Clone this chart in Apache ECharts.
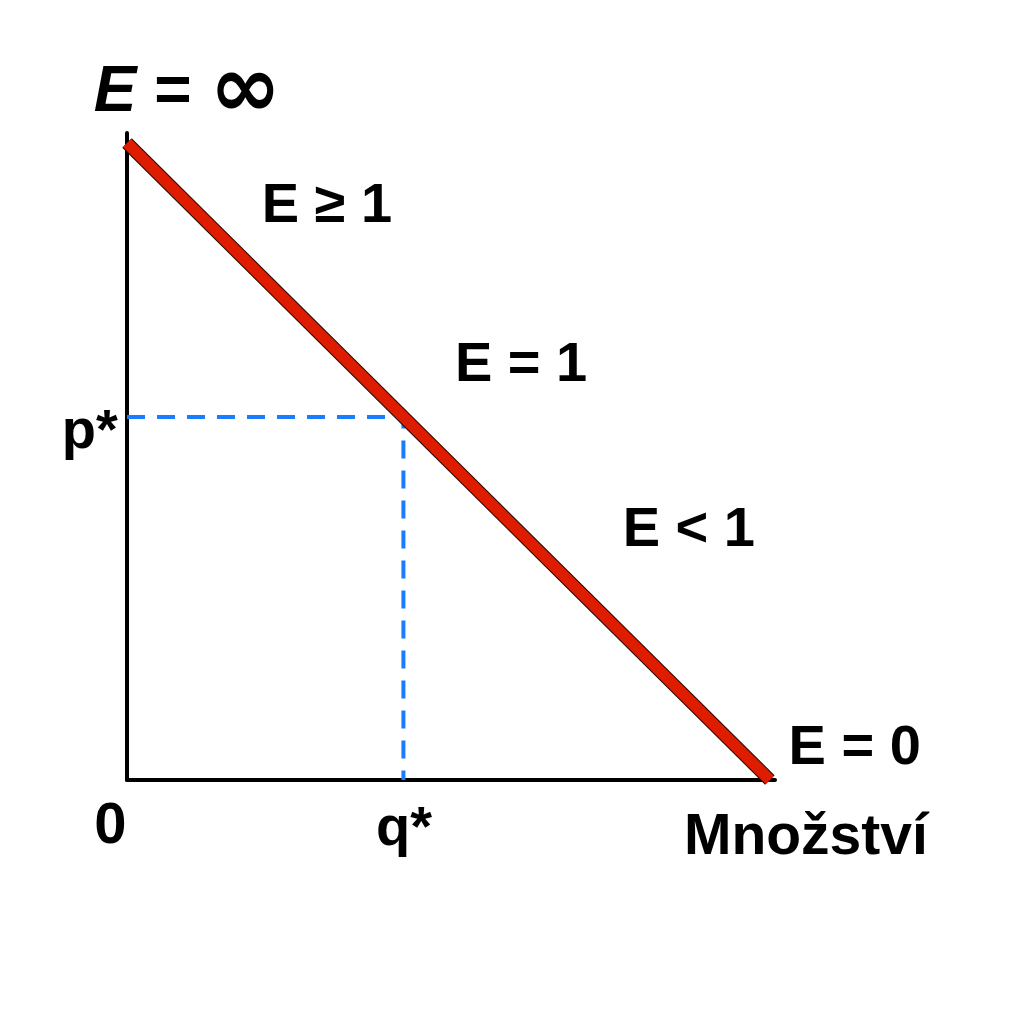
<!DOCTYPE html>
<html><head><meta charset="utf-8">
<script src="https://cdn.jsdelivr.net/npm/echarts@6/dist/echarts.min.js"></script>
<style>html,body{margin:0;padding:0;background:#fff}#c{width:1024px;height:1024px}</style>
</head><body><div id="c"></div>
<script>
// Data
const demandLine = [[0, 1], [1, 0]];         // linear demand curve (quantity, price)
const qStar = 0.43;                           // equilibrium quantity
const pStar = 0.57;                           // equilibrium price
const annotationTexts = ['{i|E} = {inf|∞}', 'E ≥ 1', 'E = 1', 'E < 1', 'E = 0', 'p*', '0', 'q*', 'Množství'];
// Layout (annotation anchor positions in data units) kept separately
const annotationPos = [[0.094, 1.078], [0.311, 0.9], [0.613, 0.65], [0.874, 0.392], [1.132, 0.05],
                       [-0.058, 0.546], [-0.026, -0.074], [0.431, -0.078], [1.056, -0.091]];
const annotationSize = [64, 56, 56, 56, 56, 56, 58, 56, 57];

const font = '"Liberation Sans", Arial, sans-serif';
const chart = echarts.init(document.getElementById('c'), null, {renderer: 'canvas'});
chart.setOption({
  animation: false,
  backgroundColor: '#fff',
  grid: {left: 127, top: 133, right: 249, bottom: 244},
  xAxis: {type: 'value', min: 0, max: 1.008, splitLine: {show: false}, axisTick: {show: false}, axisLabel: {show: false},
          axisLine: {lineStyle: {color: '#000', width: 4}}},
  yAxis: {type: 'value', min: 0, max: 1.0157, splitLine: {show: false}, axisTick: {show: false}, axisLabel: {show: false},
          axisLine: {lineStyle: {color: '#000', width: 4}}},
  series: [
    {type: 'line', data: [[0, pStar], [qStar, pStar], [qStar, 0]], symbol: 'none', z: 2,
     lineStyle: {color: '#1a7cff', width: 4, type: [18, 12]}},
    {type: 'line', data: demandLine, symbol: 'none', z: 3,
     lineStyle: {color: '#2a0600', width: 13.5, cap: 'butt'}},
    {type: 'line', data: demandLine, symbol: 'none', z: 4,
     lineStyle: {color: '#dd1c00', width: 11.5, cap: 'butt'}},
    {type: 'scatter', clip: false, symbolSize: 0, z: 5,
     itemStyle: {opacity: 1, color: 'transparent'},
     data: annotationPos.map((p, i) => ({value: p,
       label: {show: true, position: 'inside', formatter: annotationTexts[i], opacity: 1,
         fontSize: annotationSize[i], fontWeight: 'bold', color: '#000', fontFamily: font,
         rich: {i: {fontSize: annotationSize[i], fontWeight: 'bold', fontStyle: 'italic', fontFamily: font, color: '#000'},
                inf: {fontSize: 86, fontWeight: 'bold', fontFamily: '"DejaVu Sans", sans-serif', color: '#000'}}}})),
     emphasis: {disabled: true}}
  ]
});
</script></body></html>
